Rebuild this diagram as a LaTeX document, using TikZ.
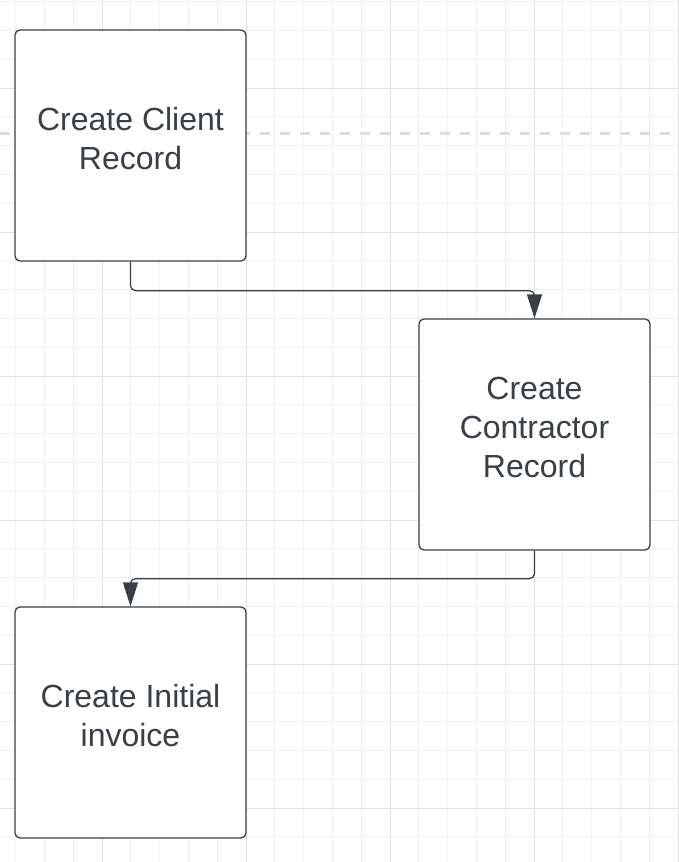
\documentclass[tikz,border=0pt]{standalone}
\usepackage{fontspec}
\setmainfont{Liberation Sans}
\usepackage{xcolor}
\usetikzlibrary{arrows.meta}
\definecolor{bg}{HTML}{FFFFFF}
\definecolor{gridminor}{HTML}{EFEFEF}
\definecolor{gridmajor}{HTML}{E0E0E0}
\definecolor{ink}{HTML}{3A3F47}
\definecolor{dashc}{HTML}{DDDDDD}
\tikzset{
  minor/.style={draw=gridminor, line width=1pt},
  major/.style={draw=gridmajor, line width=1pt},
  guide/.style={draw=dashc, line width=3pt, dash pattern=on 10pt off 10pt},
  card/.style={draw=ink, fill=bg, line width=1.3pt, rounded corners=5pt, minimum width=231pt, minimum height=231pt, inner sep=0pt},
  cardtxt/.style={text=ink, font=\fontsize{32}{39}\selectfont, align=center, inner sep=0pt},
  conn/.style={draw=ink, line width=1.3pt, rounded corners=5pt, -{Triangle[length=24pt,width=15pt]}},
}
\begin{document}
\begin{tikzpicture}[x=1pt,y=-1pt]
  \useasboundingbox (0,0) rectangle (678,862);
  \fill[bg] (0,0) rectangle (678,862);
  % grid
  \foreach \k in {0,...,23}{
    \draw[minor] ({15.6+28.8*\k},0) -- ({15.6+28.8*\k},862);
  }
  \foreach \k in {0,...,29}{
    \draw[minor] (0,{1.6+28.8*\k}) -- (678,{1.6+28.8*\k});
  }
  \foreach \k in {0,...,4}{
    \draw[major] ({102+144*\k},0) -- ({102+144*\k},862);
  }
  \foreach \k in {0,...,5}{
    \draw[major] (0,{88+144*\k}) -- (678,{88+144*\k});
  }
  \draw[guide] (0,133) -- (678,133);
  % cards
  \node[card] (client) at (130.5,145.5) {};
  \node[card] (contractor) at (534.5,434.5) {};
  \node[card] (invoice) at (130.5,722.5) {};
  \node[cardtxt] (clientlbl) at ([yshift=7pt]client.center) {Create Client\\Record};
  \node[cardtxt] (contractorlbl) at ([yshift=7pt]contractor.center) {Create\\Contractor\\Record};
  \node[cardtxt] (invoicelbl) at ([yshift=7pt]invoice.center) {Create Initial\\invoice};
  % connectors
  \draw[conn] (client.south) -- ++(0,29) -| (contractor.north);
  \draw[conn] (contractor.south) -- ++(0,28) -| (invoice.north);
\end{tikzpicture}
\end{document}
